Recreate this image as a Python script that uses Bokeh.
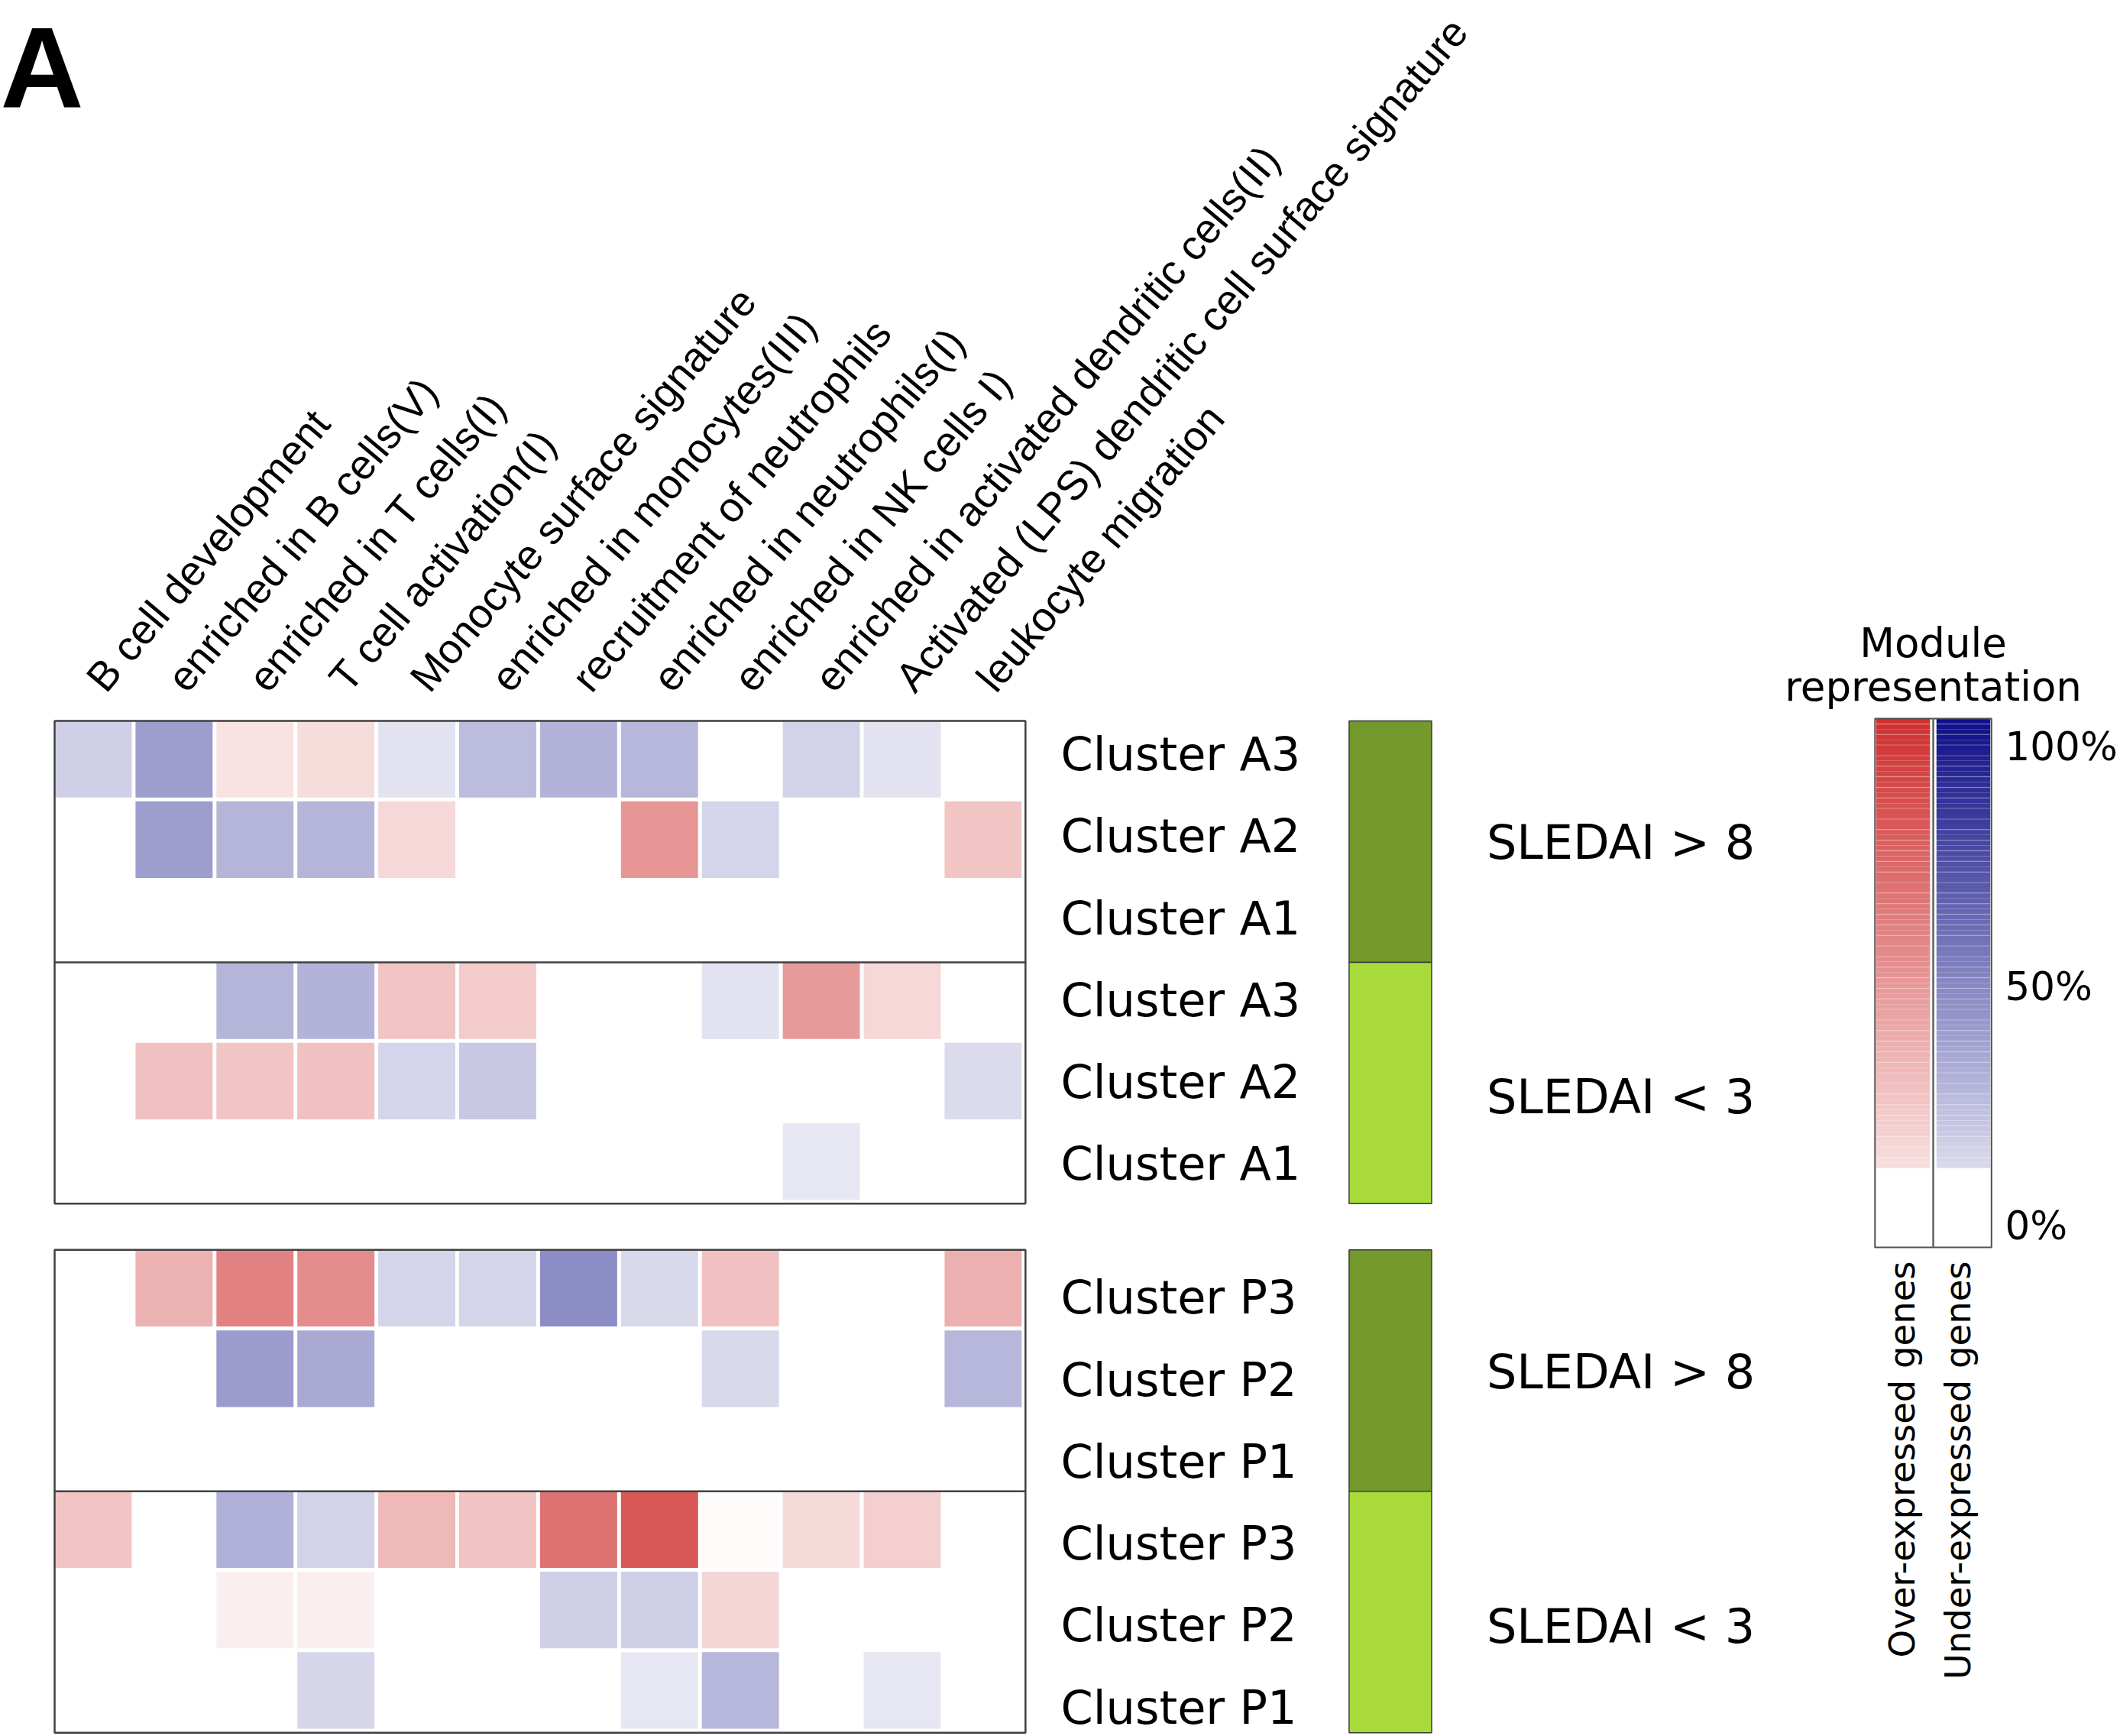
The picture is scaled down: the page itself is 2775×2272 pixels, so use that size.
import math
import numpy as np
from bokeh.plotting import figure
from bokeh.models import Range1d
from bokeh.core.properties import value
from bokeh.embed import file_html
from bokeh.resources import INLINE

# ---------------- data ----------------
modules = [
    "B cell development",
    "enriched in B cells(V)",
    "enriched in T cells(I)",
    "T cell activation(I)",
    "Monocyte surface signature",
    "enriched in monocytes(III)",
    "recruitment of neutrophils",
    "enriched in neutrophils(I)",
    "enriched in NK cells I)",
    "enriched in activated dendritic cells(II)",
    "Activated (LPS) dendritic cell surface signature",
    "leukocyte migration",
]
clusters_A = ["Cluster A3", "Cluster A2", "Cluster A1"]
clusters_P = ["Cluster P3", "Cluster P2", "Cluster P1"]
groups = ["SLEDAI > 8", "SLEDAI < 3"]

# module representation in % (positive = over-expressed, negative = under-expressed)
A_sledai_high = [
    [-20, -41, 14, 17, -12, -28, -32, -30, 0, -19, -12, 0],
    [0, -41, -31, -31, 19, 0, 0, 51, -18, 0, 0, 28],
    [0, 0, 0, 0, 0, 0, 0, 0, 0, 0, 0, 0],
]
A_sledai_low = [
    [0, 0, -31, -32, 28, 25, 0, 0, -12, 49, 19, 0],
    [0, 30, 28, 30, -18, -23, 0, 0, 0, 0, 0, -15],
    [0, 0, 0, 0, 0, 0, 0, 0, 0, -10, 0, 0],
]
P_sledai_high = [
    [0, 37, 61, 56, -18, -18, -48, -16, 30, 0, 0, 38],
    [0, 0, -42, -36, 0, 0, 0, 0, -16, 0, 0, -30],
    [0, 0, 0, 0, 0, 0, 0, 0, 0, 0, 0, 0],
]
P_sledai_low = [
    [28, 0, -33, -19, 34, 29, 68, 81, 2, 18, 23, 0],
    [0, 0, 8, 8, 0, 0, -20, -20, 20, 0, 0, 0],
    [0, 0, 0, -17, 0, 0, 0, -10, -30, 0, -10, 0],
]

legend_title = ["Module", "representation"]
legend_ticks = [100, 50, 0]
legend_tick_labels = ["100%", "50%", "0%"]
legend_columns = ["Over-expressed genes", "Under-expressed genes"]
legend_min_pct = 15

# ---------------- styling / layout ----------------
RED_END = (207, 48, 48)
BLUE_END = (16, 16, 136)
GROUP_COLORS = ["#73982b", "#a8db3a"]


def cell_color(v):
    end = RED_END if v > 0 else BLUE_END
    f = min(abs(v), 100) / 100.0
    r, g, b = [int(round(255 + (e - 255) * f)) for e in end]
    return "#%02x%02x%02x" % (r, g, b)


W, H = 2775, 2272
X_START, X_END = -0.6704, 25.533
Y_TOP, Y_BOTTOM = -8.955, 12.621
PANEL_TOP = [0.0, 6.575]
GAP_X, GAP_Y = 0.047, 0.048
FONT = value("DejaVu Sans")
FONT_COL = value("Liberation Sans")
BASE_SHIFT = 0.35  # em; compensates renderer's baseline placement


def offs(fs, angle_deg=0.0):
    a = math.radians(angle_deg)
    c = BASE_SHIFT * fs
    return dict(x_offset=-c * math.sin(a), y_offset=-c * math.cos(a))


p = figure(width=W, height=H, x_range=Range1d(X_START, X_END),
           y_range=Range1d(Y_BOTTOM, Y_TOP), output_backend="svg",
           toolbar_location=None, x_axis_location=None, y_axis_location=None,
           min_border=0, outline_line_color=None)
p.background_fill_color = "white"
p.border_fill_color = "white"
p.grid.visible = False

# ---------------- heatmap cells ----------------
panels = [(A_sledai_high, A_sledai_low, clusters_A), (P_sledai_high, P_sledai_low, clusters_P)]
xs, ys, cs = [], [], []
for pi, (high, low, _) in enumerate(panels):
    for gi, grid in enumerate([high, low]):
        for r, rowvals in enumerate(grid):
            for c, v in enumerate(rowvals):
                xs.append(c + (1 - GAP_X) / 2)
                ys.append(PANEL_TOP[pi] + gi * 3 + r + (1 - GAP_Y) / 2)
                cs.append(cell_color(v))
p.rect(x=xs, y=ys, width=1 - GAP_X, height=1 - GAP_Y, fill_color=cs, line_color=None)

ncol = len(modules)
for pt in PANEL_TOP:
    p.quad(left=0, right=ncol, top=pt, bottom=pt + 6, fill_color=None,
           line_color="#404040", line_width=2.5)
    p.segment(x0=0, x1=ncol, y0=pt + 3, y1=pt + 3, line_color="#404040", line_width=2.5)

# column labels
p.text(x=[i + 0.64 for i in range(ncol)], y=[-0.323] * ncol, text=modules,
       angle=50, angle_units="deg", text_font=FONT_COL, text_font_size="54.5px",
       text_align="left", text_baseline="alphabetic", text_color="black",
       **offs(54.5, 50))

# row labels, group bars, group labels
LABEL_X = 12.436
LABEL_OFF = [0.614, 0.794]
LABEL_STEP = 1.019
SLEDAI_OFF = [1.72, 4.88]
for pi, (_, _, names) in enumerate(panels):
    pt = PANEL_TOP[pi]
    labels = names + names
    p.text(x=[LABEL_X] * 6, y=[pt + LABEL_OFF[pi] + k * LABEL_STEP for k in range(6)],
           text=labels, text_font=FONT, text_font_size="60.5px",
           text_align="left", text_baseline="alphabetic", text_color="black", **offs(60.5))
    p.quad(left=[16.0, 16.0], right=[17.02, 17.02], top=[pt, pt + 3],
           bottom=[pt + 3, pt + 6], fill_color=GROUP_COLORS,
           line_color="#3a3a3a", line_width=1.5)
    p.text(x=[17.70, 17.70], y=[pt + SLEDAI_OFF[0], pt + SLEDAI_OFF[1]], text=groups,
           text_font=FONT, text_font_size="62px", text_align="left",
           text_baseline="alphabetic", text_color="black", **offs(62))

# "A" panel tag
p.text(x=[X_START], y=[-7.626], text=["A"], text_font=FONT_COL,
       text_font_size="151px", text_font_style="bold", text_align="left",
       text_baseline="alphabetic", text_color="black", **offs(151))

# ---------------- legend ----------------
CB_TOP, CB_BOTTOM = -0.0285, 6.543
CB_L, CB_R, CB_MID = 22.50, 23.94, 23.22
RED_X = (22.515, 23.18)
BLUE_X = (23.26, 23.925)


def cb_y(pct):
    return CB_BOTTOM - pct / 100.0 * (CB_BOTTOM - CB_TOP)


levels = np.arange(legend_min_pct, 100)
tops = [cb_y(l + 1) for l in levels]
bots = [cb_y(l) for l in levels]
p.quad(left=RED_X[0], right=RED_X[1], top=tops, bottom=bots,
       fill_color=[cell_color(l + 1) for l in levels], line_color=None)
p.quad(left=BLUE_X[0], right=BLUE_X[1], top=tops, bottom=bots,
       fill_color=[cell_color(-(l + 1)) for l in levels], line_color=None)
# faint banding lines of the gradient
band = np.arange(legend_min_pct + 2, 100, 2)
for (x0, x1) in (RED_X, BLUE_X):
    p.segment(x0=x0, x1=x1, y0=[cb_y(b) for b in band], y1=[cb_y(b) for b in band],
              line_color="white", line_alpha=0.22, line_width=1.5)
p.quad(left=CB_L, right=CB_R, top=CB_TOP, bottom=CB_BOTTOM, fill_color=None,
       line_color="#505050", line_width=2)
p.segment(x0=CB_MID, x1=CB_MID, y0=CB_TOP, y1=CB_BOTTOM, line_color="#606060", line_width=2.5)

TICK_Y0, TICK_Y100 = 6.448, 0.494
p.text(x=[24.108] * 3, y=[TICK_Y0 + (TICK_Y100 - TICK_Y0) * t / 100.0 for t in legend_ticks],
       text=legend_tick_labels, text_font=FONT, text_font_size="51.5px",
       text_align="left", text_baseline="alphabetic", text_color="black", **offs(51.5))
p.text(x=[CB_MID, CB_MID], y=[-0.788, -0.250], text=legend_title, text_font=FONT,
       text_font_size="53px", text_align="center", text_baseline="alphabetic",
       text_color="black", **offs(53))
p.text(x=[22.99, 23.68], y=[6.714, 6.714], text=legend_columns, angle=90,
       angle_units="deg", text_font=FONT, text_font_size="46.5px", text_align="right",
       text_baseline="alphabetic", text_color="black", **offs(46.5, 90))

open("out.html", "w").write(file_html(p, INLINE))
